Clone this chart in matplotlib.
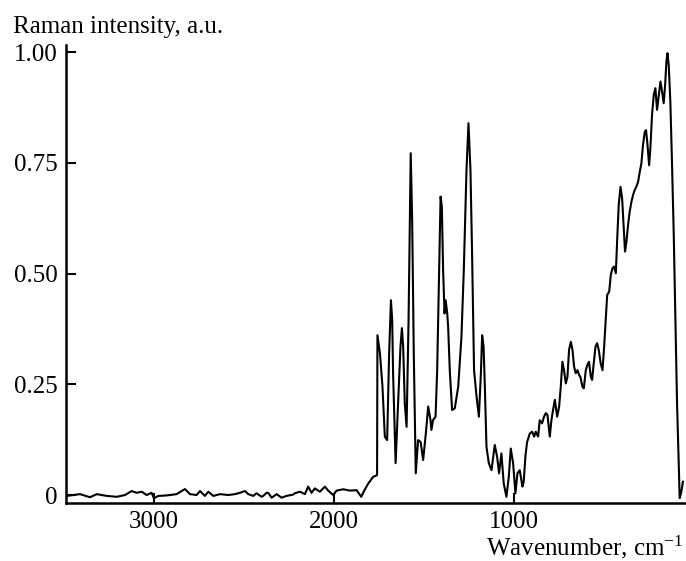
import numpy as np
import matplotlib
matplotlib.use("Agg")
import matplotlib.pyplot as plt

plt.rcParams['font.family'] = ['Liberation Serif', 'DejaVu Serif']
plt.rcParams['mathtext.fontset'] = 'custom'
plt.rcParams['mathtext.rm'] = 'Liberation Serif'
plt.rcParams['mathtext.it'] = 'Liberation Serif:italic'

# flat noisy region, high wavenumbers
base_wn = [3485, 3450, 3411, 3356, 3318, 3263, 3207, 3161, 3124, 3096, 3068, 3041,
           3013, 3000, 2976, 2930, 2874, 2828, 2800, 2763, 2744, 2717, 2698, 2670,
           2633, 2587, 2550, 2522, 2504, 2494, 2476, 2448, 2430, 2402, 2393, 2374,
           2365, 2346, 2318, 2291, 2263, 2226, 2217, 2189, 2161, 2143, 2124, 2106,
           2078, 2050, 2032, 2004, 1985, 1948, 1911, 1874, 1848, 1830, 1809, 1782,
           1760]
base_int = [-0.002, 0.000, 0.002, -0.005, 0.002, -0.002, -0.004, 0.000, 0.009, 0.005,
            0.0075, 0.000, 0.005, -0.0075, -0.002, -0.001, 0.002, 0.0135, 0.002, 0.000,
            0.009, -0.002, 0.0075, -0.002, 0.002, 0.000, 0.002, 0.005, 0.0075, 0.009,
            0.002, -0.002, 0.004, -0.004, -0.002, 0.005, 0.005, -0.006, 0.002, -0.006,
            -0.002, 0.001, 0.004, 0.0075, 0.002, 0.019, 0.005, 0.015, 0.0075, 0.019,
            0.010, 0.000, 0.010, 0.013, 0.010, 0.011, -0.004, 0.011, 0.026, 0.041,
            0.045]

# fingerprint bands
band_wn = [1758, 1744, 1730, 1717, 1704, 1693, 1683, 1676, 1671, 1657, 1643, 1630,
           1622, 1615, 1606, 1596, 1585, 1578, 1573, 1565, 1556, 1545, 1532, 1518,
           1504, 1489, 1476, 1463, 1458, 1449, 1435, 1426, 1417, 1407, 1400, 1393,
           1385, 1379, 1370, 1365, 1356, 1343, 1328, 1309, 1291, 1278, 1263, 1252,
           1241, 1232, 1221, 1207, 1194, 1183, 1176, 1168, 1161, 1152, 1139, 1124,
           1106, 1093, 1082, 1069, 1056, 1041, 1028, 1017, 1004, 991, 980, 967,
           952, 945, 935, 926, 911, 898, 887, 878, 865, 856, 843, 832, 822, 813]
band_int = [0.361, 0.32, 0.245, 0.132, 0.124, 0.32, 0.44, 0.395, 0.275, 0.072, 0.207,
            0.335, 0.377, 0.335, 0.207, 0.154, 0.395, 0.621, 0.772, 0.621, 0.32, 0.049,
            0.124, 0.12, 0.079, 0.139, 0.2, 0.169, 0.147, 0.169, 0.177, 0.282, 0.47,
            0.674, 0.651, 0.508, 0.41, 0.44, 0.41, 0.38, 0.282, 0.192, 0.196, 0.245,
            0.358, 0.508, 0.734, 0.84, 0.734, 0.546, 0.282, 0.222, 0.177, 0.275, 0.361,
            0.335, 0.245, 0.109, 0.072, 0.056, 0.113, 0.087, 0.049, 0.094, 0.026,
            -0.004, 0.041, 0.105, 0.072, 0.004, 0.049, 0.056, 0.019, 0.03, 0.09, 0.12,
            0.139, 0.143, 0.132, 0.143, 0.132, 0.169, 0.162, 0.177, 0.185, 0.181]

# low-wavenumber rise
low_wn = [800, 791, 782, 772, 759, 748, 739, 730, 721, 711, 702, 693, 683, 674, 665,
          656, 646, 637, 630, 619, 611, 600, 591, 582, 572, 565, 556, 546, 537, 528,
          517, 507, 498, 489, 481, 470, 461, 452, 443, 433, 426, 417, 407, 398, 389,
          382, 374, 365, 356, 346, 337, 328, 319, 309, 300, 291, 282, 272, 265, 257,
          248, 241, 232, 222, 213, 204, 194, 185, 176, 167, 159, 152, 146, 139, 130,
          121, 111, 102, 93, 83, 78, 69, 60]
low_int = [0.132, 0.169, 0.192, 0.215, 0.177, 0.2, 0.245, 0.301, 0.282, 0.252, 0.267,
           0.328, 0.346, 0.328, 0.29, 0.275, 0.282, 0.271, 0.267, 0.245, 0.241, 0.282,
           0.294, 0.301, 0.267, 0.26, 0.297, 0.335, 0.343, 0.328, 0.297, 0.282, 0.335,
           0.399, 0.452, 0.459, 0.497, 0.512, 0.516, 0.501, 0.572, 0.655, 0.696, 0.67,
           0.602, 0.55, 0.572, 0.61, 0.64, 0.663, 0.678, 0.689, 0.696, 0.708, 0.73,
           0.749, 0.791, 0.821, 0.824, 0.791, 0.745, 0.783, 0.858, 0.904, 0.919, 0.87,
           0.904, 0.934, 0.911, 0.885, 0.926, 0.979, 0.998, 0.971, 0.888, 0.753, 0.587,
           0.399, 0.211, 0.06, -0.007, 0.007, 0.03]

x_ticks = [3000, 2000, 1000]
y_ticks = [0, 0.25, 0.50, 0.75, 1.00]
y_labels = ['0', '0.25', '0.50', '0.75', '1.00']

wn = np.concatenate([base_wn, band_wn, low_wn])
inten = np.concatenate([base_int, band_int, low_int])

fig = plt.figure(figsize=(6.86, 5.61), dpi=100)
ax = fig.add_axes([0.0962, 0.1034, 0.9038, 0.8164])

ax.plot(wn, inten, color='black', lw=1.5)

ax.set_xlim(3489, 43)
ax.set_ylim(-0.018, 1.0165)

ax.spines['top'].set_visible(False)
ax.spines['right'].set_visible(False)
ax.spines['left'].set_linewidth(1.8)
ax.spines['bottom'].set_linewidth(1.8)

ax.set_xticks(x_ticks)
ax.set_yticks(y_ticks)
ax.set_yticklabels(y_labels)
ax.tick_params(direction='in', length=7, width=1.5, labelsize=18, pad=6)

fig.text(0.019, 0.941, 'Raman intensity, a.u.', fontsize=18, ha='left', va='baseline')
fig.text(0.997, 0.010, 'Wavenumber, cm$^{-1}$', fontsize=18, ha='right', va='baseline')

fig.savefig('out.png', dpi=100)
